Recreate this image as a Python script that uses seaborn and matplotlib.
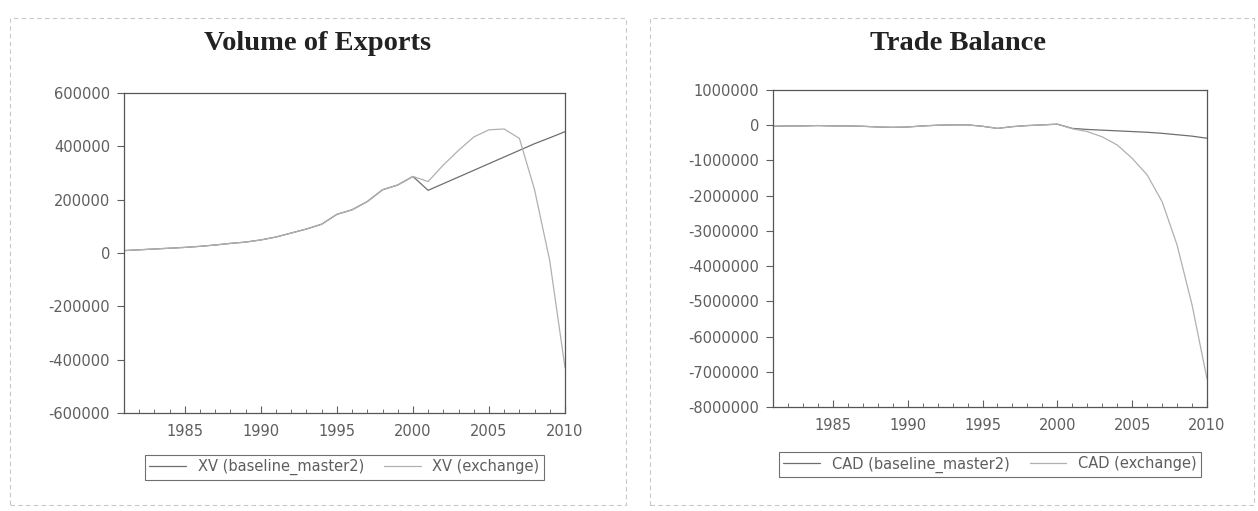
import numpy as np
import pandas as pd
import matplotlib
matplotlib.use("Agg")
import matplotlib.pyplot as plt
from matplotlib.patches import Rectangle
from matplotlib.ticker import MultipleLocator
import seaborn as sns

years = list(range(1981, 2011))

# Volume of Exports (XV)
xv_baseline = [9000, 12000, 15000, 18000, 21000, 25000, 30000, 36000, 41000, 49000,
               60000, 75000, 90000, 108000, 145000, 162000, 193000, 237000, 255000, 287000,
               235000, 260000, 285000, 310000, 335000, 360000, 385000, 410000, 432000, 455000]
xv_exchange = [9000, 12000, 15000, 18000, 21000, 25000, 30000, 36000, 41000, 49000,
               60000, 75000, 90000, 108000, 145000, 162000, 193000, 237000, 255000, 287000,
               268000, 330000, 385000, 435000, 462000, 465000, 430000, 237000, -30000, -430000]

# Trade Balance (CAD)
cad_baseline = [-30000, -20000, -20000, -10000, -20000, -20000, -30000, -50000, -60000, -50000,
                -20000, 0, 10000, 10000, -30000, -90000, -40000, -10000, 10000, 30000,
                -90000, -120000, -140000, -160000, -180000, -200000, -230000, -270000, -310000, -370000]
cad_exchange = [-30000, -20000, -20000, -10000, -20000, -20000, -30000, -50000, -60000, -50000,
                -20000, 0, 10000, 10000, -30000, -90000, -40000, -10000, 10000, 30000,
                -100000, -180000, -330000, -560000, -940000, -1410000, -2170000, -3400000, -5100000, -7200000]

xv_labels = ["XV (baseline_master2)", "XV (exchange)"]
cad_labels = ["CAD (baseline_master2)", "CAD (exchange)"]
xv_ticks = [600000, 400000, 200000, 0, -200000, -400000, -600000]
cad_ticks = list(range(1000000, -8000001, -1000000))

sns.set_theme(style="white")
plt.rcParams["font.family"] = ["DejaVu Sans"]

line_colors = ["#6e6e6e", "#b0b0b0"]
text_grey = "#5e5e5e"

fig = plt.figure(figsize=(12.58, 5.11), dpi=100)

# dashed outer frames round each panel
for x0, w in [(10 / 1258, 616 / 1258), (650 / 1258, 604 / 1258)]:
    fig.patches.append(Rectangle((x0, 1 - 505 / 511), w, 487 / 511, transform=fig.transFigure,
                                 fill=False, edgecolor="#c8c8c8", linestyle=(0, (4, 3)), linewidth=0.8))


def draw_panel(rect, title, title_x, base, exch, labels, ticks, ylim, leg_y):
    ax = fig.add_axes(rect)
    df = pd.DataFrame({
        "year": years * 2,
        "value": base + exch,
        "series": [labels[0]] * len(years) + [labels[1]] * len(years),
    })
    sns.lineplot(data=df, x="year", y="value", hue="series", palette=line_colors,
                 linewidth=0.9, ax=ax)
    ax.set_xlim(1981, 2010)
    ax.set_ylim(*ylim)
    ax.set_yticks(ticks)
    ax.set_yticklabels([f"{t:d}" for t in ticks])
    ax.set_xticks([1985, 1990, 1995, 2000, 2005, 2010])
    ax.xaxis.set_minor_locator(MultipleLocator(1))
    ax.set_xlabel("")
    ax.set_ylabel("")
    ax.tick_params(axis="x", which="major", direction="in", length=5, width=0.8, bottom=True,
                   colors="#606060", labelcolor=text_grey, labelsize=10.5, pad=8)
    ax.tick_params(axis="x", which="minor", direction="in", length=3, width=0.7, bottom=True,
                   colors="#707070")
    ax.tick_params(axis="y", which="major", direction="out", length=5, width=0.8, left=True,
                   colors="#606060", labelcolor=text_grey, labelsize=10.5, pad=5)
    for s in ax.spines.values():
        s.set_color("#555555")
        s.set_linewidth(0.9)
    fig.text(title_x, 1 - 43 / 511, title, ha="center", va="center", fontsize=20.5,
             fontweight="bold", family="Liberation Serif", color="#222222")
    handles, lbls = ax.get_legend_handles_labels()
    ax.legend(handles, lbls, ncol=2, loc="upper center", bbox_to_anchor=(0.5, leg_y),
              frameon=True, fancybox=False, edgecolor="#707070", fontsize=10.5,
              labelcolor=text_grey, handlelength=2.5, columnspacing=1.4,
              borderpad=0.3, borderaxespad=0, framealpha=1)
    ax.get_legend().get_frame().set_linewidth(0.8)
    return ax


draw_panel([124 / 1258, 1 - 413 / 511, 441 / 1258, 320 / 511], "Volume of Exports", 318 / 1258,
           xv_baseline, xv_exchange, xv_labels, xv_ticks, (-600000, 600000), -0.131)
draw_panel([773 / 1258, 1 - 407 / 511, 434 / 1258, 317 / 511], "Trade Balance", 958 / 1258,
           cad_baseline, cad_exchange, cad_labels, cad_ticks, (-8000000, 1000000), -0.142)

fig.savefig("out.png", dpi=100)
